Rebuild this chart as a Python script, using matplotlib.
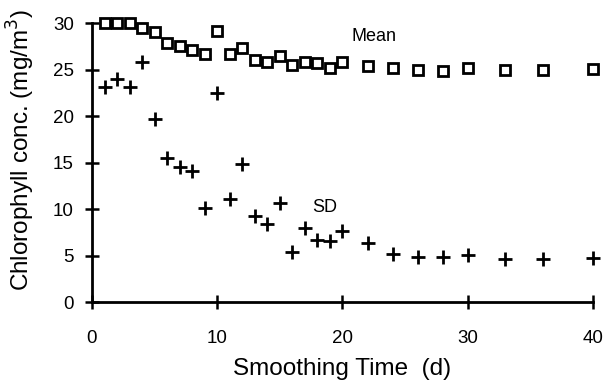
import matplotlib
matplotlib.use("Agg")
import matplotlib.pyplot as plt

# smoothing time (days)
days = [1, 2, 3, 4, 5, 6, 7, 8, 9, 10, 11, 12, 13, 14, 15, 16, 17, 18, 19, 20,
        22, 24, 26, 28, 30, 33, 36, 40]
# mean chlorophyll
mean_chl = [30.0, 30.0, 30.0, 29.5, 29.0, 27.9, 27.5, 27.1, 26.7, 29.1, 26.7, 27.3,
            26.0, 25.8, 26.4, 25.5, 25.8, 25.7, 25.2, 25.8,
            25.4, 25.2, 25.0, 24.85, 25.2, 25.0, 24.95, 25.1]
# standard deviation
sd_chl = [23.1, 24.0, 23.1, 25.8, 19.7, 15.5, 14.5, 14.1, 10.1, 22.5, 11.1, 14.8,
          9.3, 8.4, 10.6, 5.4, 8.0, 6.7, 6.55, 7.6,
          6.3, 5.15, 4.8, 4.8, 5.1, 4.6, 4.6, 4.7]

plt.rcParams['font.family'] = ['Liberation Sans', 'DejaVu Sans']

fig = plt.figure(figsize=(6.04, 3.86), dpi=100)
ax = fig.add_axes([0.1523, 0.2176, 0.8295, 0.7228])

ax.plot(days, mean_chl, linestyle='none', marker='s', markersize=7,
        markerfacecolor='white', markeredgecolor='black', markeredgewidth=2,
        clip_on=False)
ax.plot(days, sd_chl, linestyle='none', marker='+', markersize=10,
        color='black', markeredgewidth=2, clip_on=False)

ax.text(22.5, 28.5, 'Mean', fontsize=13, ha='center', va='center')
ax.text(18.6, 10.2, 'SD', fontsize=13, ha='center', va='center')

ax.set_xlim(0, 40)
ax.set_ylim(0, 30)
ax.set_xticks([0, 10, 20, 30, 40])
ax.set_yticks([0, 5, 10, 15, 20, 25, 30])

for s in ['top', 'right']:
    ax.spines[s].set_visible(False)
for s in ['left', 'bottom']:
    ax.spines[s].set_linewidth(2)

ax.tick_params(axis='both', direction='inout', length=10, width=1.8,
               labelsize=13.5)
ax.tick_params(axis='x', pad=15)
ax.tick_params(axis='y', pad=8)

ax.set_xlabel('Smoothing Time  (d)', fontsize=17.5)
ax.set_ylabel('Chlorophyll conc. (mg/m$^3$)', fontsize=17.5)
ax.xaxis.set_label_coords(0.5, -0.2)
ax.yaxis.set_label_coords(-0.11, 0.545)

fig.savefig('out.png', dpi=100)
